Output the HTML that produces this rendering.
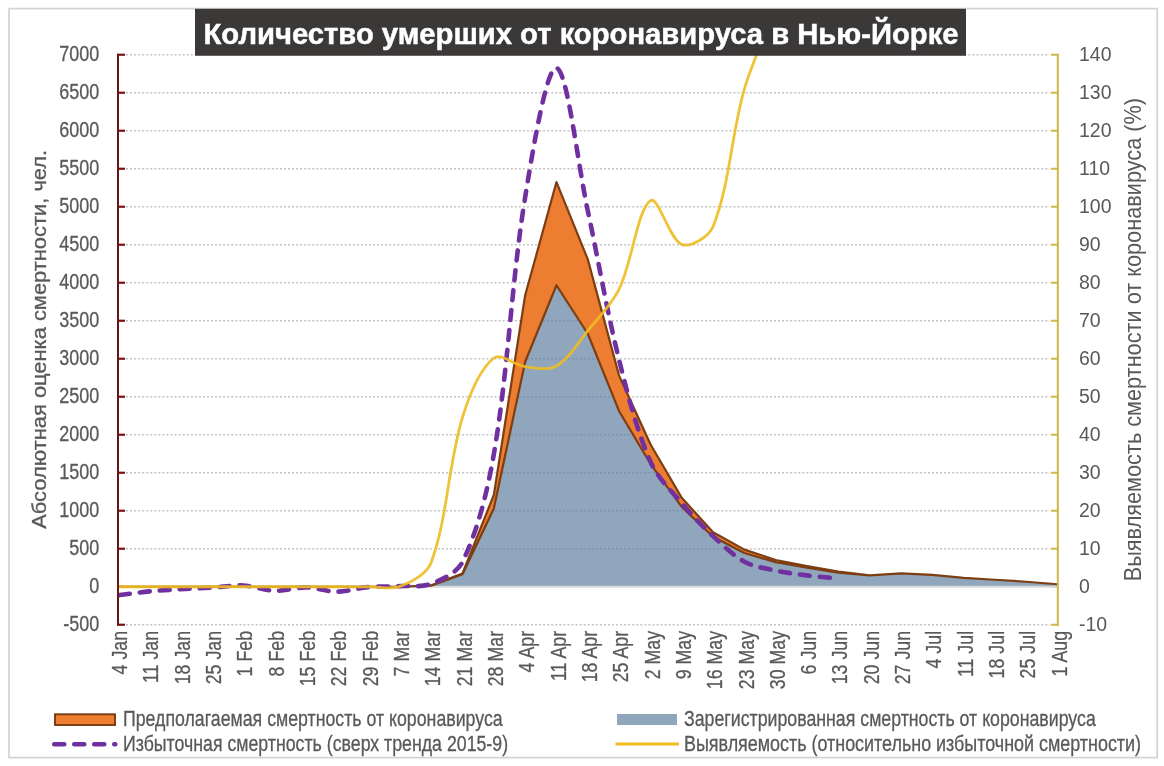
<!DOCTYPE html>
<html><head><meta charset="utf-8"><style>
html,body{margin:0;padding:0;background:#fff;width:1164px;height:766px;overflow:hidden}
svg{display:block;will-change:transform}
text{font-family:"Liberation Sans", sans-serif}
</style></head><body>
<svg width="1164" height="766" viewBox="0 0 1164 766">
<rect x="9" y="8.6" width="1148.2" height="749" fill="#fff" stroke="#D3D3D3" stroke-width="1.7"/>
<clipPath id="plot"><rect x="118.6" y="0" width="938.6" height="766"/></clipPath>
<clipPath id="cp"><rect x="118.6" y="9" width="938.6" height="757"/></clipPath>
<line x1="117" y1="624.75" x2="125" y2="624.75" stroke="#7A1414" stroke-width="2.2"/>
<line x1="117" y1="586.75" x2="125" y2="586.75" stroke="#7A1414" stroke-width="2.2"/>
<line x1="117" y1="548.75" x2="125" y2="548.75" stroke="#7A1414" stroke-width="2.2"/>
<line x1="117" y1="510.75" x2="125" y2="510.75" stroke="#7A1414" stroke-width="2.2"/>
<line x1="117" y1="472.75" x2="125" y2="472.75" stroke="#7A1414" stroke-width="2.2"/>
<line x1="117" y1="434.75" x2="125" y2="434.75" stroke="#7A1414" stroke-width="2.2"/>
<line x1="117" y1="396.75" x2="125" y2="396.75" stroke="#7A1414" stroke-width="2.2"/>
<line x1="117" y1="358.75" x2="125" y2="358.75" stroke="#7A1414" stroke-width="2.2"/>
<line x1="117" y1="320.75" x2="125" y2="320.75" stroke="#7A1414" stroke-width="2.2"/>
<line x1="117" y1="282.75" x2="125" y2="282.75" stroke="#7A1414" stroke-width="2.2"/>
<line x1="117" y1="244.75" x2="125" y2="244.75" stroke="#7A1414" stroke-width="2.2"/>
<line x1="117" y1="206.75" x2="125" y2="206.75" stroke="#7A1414" stroke-width="2.2"/>
<line x1="117" y1="168.75" x2="125" y2="168.75" stroke="#7A1414" stroke-width="2.2"/>
<line x1="117" y1="130.75" x2="125" y2="130.75" stroke="#7A1414" stroke-width="2.2"/>
<line x1="117" y1="92.75" x2="125" y2="92.75" stroke="#7A1414" stroke-width="2.2"/>
<line x1="117" y1="54.75" x2="125" y2="54.75" stroke="#7A1414" stroke-width="2.2"/>
<line x1="1051" y1="624.75" x2="1058.6" y2="624.75" stroke="#CDB848" stroke-width="2"/>
<line x1="1051" y1="586.75" x2="1058.6" y2="586.75" stroke="#CDB848" stroke-width="2"/>
<line x1="1051" y1="548.75" x2="1058.6" y2="548.75" stroke="#CDB848" stroke-width="2"/>
<line x1="1051" y1="510.75" x2="1058.6" y2="510.75" stroke="#CDB848" stroke-width="2"/>
<line x1="1051" y1="472.75" x2="1058.6" y2="472.75" stroke="#CDB848" stroke-width="2"/>
<line x1="1051" y1="434.75" x2="1058.6" y2="434.75" stroke="#CDB848" stroke-width="2"/>
<line x1="1051" y1="396.75" x2="1058.6" y2="396.75" stroke="#CDB848" stroke-width="2"/>
<line x1="1051" y1="358.75" x2="1058.6" y2="358.75" stroke="#CDB848" stroke-width="2"/>
<line x1="1051" y1="320.75" x2="1058.6" y2="320.75" stroke="#CDB848" stroke-width="2"/>
<line x1="1051" y1="282.75" x2="1058.6" y2="282.75" stroke="#CDB848" stroke-width="2"/>
<line x1="1051" y1="244.75" x2="1058.6" y2="244.75" stroke="#CDB848" stroke-width="2"/>
<line x1="1051" y1="206.75" x2="1058.6" y2="206.75" stroke="#CDB848" stroke-width="2"/>
<line x1="1051" y1="168.75" x2="1058.6" y2="168.75" stroke="#CDB848" stroke-width="2"/>
<line x1="1051" y1="130.75" x2="1058.6" y2="130.75" stroke="#CDB848" stroke-width="2"/>
<line x1="1051" y1="92.75" x2="1058.6" y2="92.75" stroke="#CDB848" stroke-width="2"/>
<line x1="1051" y1="54.75" x2="1058.6" y2="54.75" stroke="#CDB848" stroke-width="2"/>
<g stroke="#C4C4C4" stroke-width="1.7" stroke-dasharray="2 2.05"><line x1="126" y1="624.75" x2="1050" y2="624.75"/><line x1="126" y1="548.75" x2="1050" y2="548.75"/><line x1="126" y1="510.75" x2="1050" y2="510.75"/><line x1="126" y1="472.75" x2="1050" y2="472.75"/><line x1="126" y1="434.75" x2="1050" y2="434.75"/><line x1="126" y1="396.75" x2="1050" y2="396.75"/><line x1="126" y1="358.75" x2="1050" y2="358.75"/><line x1="126" y1="320.75" x2="1050" y2="320.75"/><line x1="126" y1="282.75" x2="1050" y2="282.75"/><line x1="126" y1="244.75" x2="1050" y2="244.75"/><line x1="126" y1="206.75" x2="1050" y2="206.75"/><line x1="126" y1="168.75" x2="1050" y2="168.75"/><line x1="126" y1="130.75" x2="1050" y2="130.75"/><line x1="126" y1="92.75" x2="1050" y2="92.75"/><line x1="126" y1="54.75" x2="1050" y2="54.75"/></g>
<path d="M118.00,586.75 L149.32,586.75 L180.64,586.75 L211.96,586.75 L243.28,586.75 L274.60,586.75 L305.92,586.75 L337.24,586.75 L368.56,586.75 L399.88,586.75 L431.20,585.69 L462.52,574.21 L493.84,508.47 L525.16,361.79 L556.48,285.26 L587.80,333.75 L619.12,411.19 L650.44,463.78 L681.76,506.95 L713.08,536.74 L744.40,552.93 L775.72,562.28 L807.04,567.75 L838.36,572.61 L869.68,575.35 L901.00,573.37 L932.32,574.97 L963.64,577.86 L994.96,579.76 L1026.28,581.73 L1057.60,584.24 L1057.60,586.75 L118.00,586.75 Z" fill="#90A6BD"/>
<clipPath id="bclip"><path d="M118.00,586.75 L149.32,586.75 L180.64,586.75 L211.96,586.75 L243.28,586.75 L274.60,586.75 L305.92,586.75 L337.24,586.75 L368.56,586.75 L399.88,586.75 L431.20,585.69 L462.52,574.21 L493.84,508.47 L525.16,361.79 L556.48,285.26 L587.80,333.75 L619.12,411.19 L650.44,463.78 L681.76,506.95 L713.08,536.74 L744.40,552.93 L775.72,562.28 L807.04,567.75 L838.36,572.61 L869.68,575.35 L901.00,573.37 L932.32,574.97 L963.64,577.86 L994.96,579.76 L1026.28,581.73 L1057.60,584.24 L1057.60,586.75 L118.00,586.75 Z"/></clipPath>
<g clip-path="url(#bclip)" stroke="#7C92AA" stroke-width="1.7" stroke-dasharray="2 2.05"><line x1="126" y1="624.75" x2="1050" y2="624.75"/><line x1="126" y1="548.75" x2="1050" y2="548.75"/><line x1="126" y1="510.75" x2="1050" y2="510.75"/><line x1="126" y1="472.75" x2="1050" y2="472.75"/><line x1="126" y1="434.75" x2="1050" y2="434.75"/><line x1="126" y1="396.75" x2="1050" y2="396.75"/><line x1="126" y1="358.75" x2="1050" y2="358.75"/><line x1="126" y1="320.75" x2="1050" y2="320.75"/><line x1="126" y1="282.75" x2="1050" y2="282.75"/><line x1="126" y1="244.75" x2="1050" y2="244.75"/><line x1="126" y1="206.75" x2="1050" y2="206.75"/><line x1="126" y1="168.75" x2="1050" y2="168.75"/><line x1="126" y1="130.75" x2="1050" y2="130.75"/><line x1="126" y1="92.75" x2="1050" y2="92.75"/><line x1="126" y1="54.75" x2="1050" y2="54.75"/></g>
<line x1="118" y1="586.75" x2="1057.6" y2="586.75" stroke="#D9D9D9" stroke-width="2"/>
<path d="M118.00,586.75 L149.32,586.75 L180.64,586.75 L211.96,586.75 L243.28,586.75 L274.60,586.75 L305.92,586.75 L337.24,586.75 L368.56,586.75 L399.88,586.75 L431.20,585.23 L462.52,573.45 L493.84,494.94 L525.16,295.29 L556.48,182.05 L587.80,259.34 L619.12,375.62 L650.44,444.25 L681.76,497.83 L713.08,532.33 L744.40,549.66 L775.72,560.00 L807.04,566.15 L838.36,571.63 L869.68,575.35 L901.00,573.37 L932.32,574.97 L963.64,577.86 L994.96,579.76 L1026.28,581.73 L1057.60,584.24 L1057.60,584.24 L1026.28,581.73 L994.96,579.76 L963.64,577.86 L932.32,574.97 L901.00,573.37 L869.68,575.35 L838.36,572.61 L807.04,567.75 L775.72,562.28 L744.40,552.93 L713.08,536.74 L681.76,506.95 L650.44,463.78 L619.12,411.19 L587.80,333.75 L556.48,285.26 L525.16,361.79 L493.84,508.47 L462.52,574.21 L431.20,585.69 L399.88,586.75 L368.56,586.75 L337.24,586.75 L305.92,586.75 L274.60,586.75 L243.28,586.75 L211.96,586.75 L180.64,586.75 L149.32,586.75 L118.00,586.75 Z" fill="#ED7D31" stroke="#7C3E12" stroke-width="2.2" stroke-linejoin="round"/>
<path d="M118.00,595.34 C123.22,594.68 138.85,592.41 149.32,591.39 C159.73,590.36 170.19,589.80 180.64,589.18 C191.07,588.56 201.53,588.28 211.96,587.66 C222.41,587.04 232.90,584.94 243.28,585.46 C253.78,585.98 264.12,590.45 274.60,590.78 C285.00,591.11 295.50,587.28 305.92,587.43 C316.38,587.59 326.81,591.75 337.24,591.69 C347.69,591.63 358.07,587.98 368.56,587.05 C378.95,586.13 389.45,586.69 399.88,586.14 C410.33,585.60 421.79,587.44 431.20,583.79 C442.67,579.33 457.21,572.81 462.52,561.82 C478.09,529.60 487.53,490.87 493.84,454.13 C508.41,369.32 511.37,282.22 525.16,197.17 C532.25,153.47 546.54,65.73 556.48,67.90 C567.42,70.29 577.57,163.16 587.80,210.85 C598.45,260.54 606.82,310.79 619.12,360.04 C627.70,394.39 636.42,429.61 650.44,461.65 C657.30,477.34 670.61,489.97 681.76,503.23 C691.49,514.80 702.03,525.82 713.08,536.13 C722.91,545.31 732.84,555.31 744.40,561.67 C753.72,566.79 765.14,568.25 775.72,570.56 C786.02,572.81 796.57,574.02 807.04,575.35 C817.45,576.68 833.14,578.01 838.36,578.54" fill="none" stroke="#7030A0" stroke-width="4.6" stroke-dasharray="10 10" stroke-dashoffset="-2" stroke-linecap="round" clip-path="url(#plot)"/>
<path d="M118.00,586.75 C123.22,586.75 138.88,586.75 149.32,586.75 C159.76,586.75 170.20,586.75 180.64,586.75 C191.08,586.75 201.52,586.75 211.96,586.75 C222.40,586.75 232.84,586.75 243.28,586.75 C253.72,586.75 264.16,586.75 274.60,586.75 C285.04,586.75 295.48,586.75 305.92,586.75 C316.36,586.75 326.80,586.75 337.24,586.75 C347.68,586.75 358.12,586.81 368.56,586.75 C379.00,586.69 390.64,589.96 399.88,586.37 C411.52,581.85 426.82,574.25 431.20,562.43 C447.70,517.89 448.13,464.22 462.52,417.27 C469.01,396.07 479.78,369.33 493.84,357.99 C500.66,352.49 514.53,365.38 525.16,366.73 C535.41,368.04 548.15,370.77 556.48,365.97 C569.03,358.74 577.86,342.82 587.80,330.63 C598.74,317.23 611.69,304.63 619.12,289.21 C632.57,261.31 637.16,210.18 650.44,200.67 C658.04,195.23 669.26,239.21 681.76,244.37 C690.14,247.83 708.83,237.05 713.08,226.51 C729.71,185.25 731.41,134.02 744.40,88.95 C752.29,61.56 770.50,22.45 775.72,9.15" fill="none" stroke="#EDBC22" stroke-opacity="0.9" stroke-width="2.8" clip-path="url(#cp)"/>
<line x1="118" y1="54" x2="118" y2="625.5" stroke="#6A1515" stroke-width="2"/>
<line x1="1057.8" y1="54" x2="1057.8" y2="625.8" stroke="#CDB848" stroke-width="2"/>
<text x="0" y="0" text-anchor="end" font-size="22.5" fill="#595959" stroke="#595959" stroke-width="0.3" transform="translate(99.3 631.25) scale(0.80 1)">-500</text>
<text x="0" y="0" text-anchor="end" font-size="22.5" fill="#595959" stroke="#595959" stroke-width="0.3" transform="translate(99.3 593.25) scale(0.80 1)">0</text>
<text x="0" y="0" text-anchor="end" font-size="22.5" fill="#595959" stroke="#595959" stroke-width="0.3" transform="translate(99.3 555.25) scale(0.80 1)">500</text>
<text x="0" y="0" text-anchor="end" font-size="22.5" fill="#595959" stroke="#595959" stroke-width="0.3" transform="translate(99.3 517.25) scale(0.80 1)">1000</text>
<text x="0" y="0" text-anchor="end" font-size="22.5" fill="#595959" stroke="#595959" stroke-width="0.3" transform="translate(99.3 479.25) scale(0.80 1)">1500</text>
<text x="0" y="0" text-anchor="end" font-size="22.5" fill="#595959" stroke="#595959" stroke-width="0.3" transform="translate(99.3 441.25) scale(0.80 1)">2000</text>
<text x="0" y="0" text-anchor="end" font-size="22.5" fill="#595959" stroke="#595959" stroke-width="0.3" transform="translate(99.3 403.25) scale(0.80 1)">2500</text>
<text x="0" y="0" text-anchor="end" font-size="22.5" fill="#595959" stroke="#595959" stroke-width="0.3" transform="translate(99.3 365.25) scale(0.80 1)">3000</text>
<text x="0" y="0" text-anchor="end" font-size="22.5" fill="#595959" stroke="#595959" stroke-width="0.3" transform="translate(99.3 327.25) scale(0.80 1)">3500</text>
<text x="0" y="0" text-anchor="end" font-size="22.5" fill="#595959" stroke="#595959" stroke-width="0.3" transform="translate(99.3 289.25) scale(0.80 1)">4000</text>
<text x="0" y="0" text-anchor="end" font-size="22.5" fill="#595959" stroke="#595959" stroke-width="0.3" transform="translate(99.3 251.25) scale(0.80 1)">4500</text>
<text x="0" y="0" text-anchor="end" font-size="22.5" fill="#595959" stroke="#595959" stroke-width="0.3" transform="translate(99.3 213.25) scale(0.80 1)">5000</text>
<text x="0" y="0" text-anchor="end" font-size="22.5" fill="#595959" stroke="#595959" stroke-width="0.3" transform="translate(99.3 175.25) scale(0.80 1)">5500</text>
<text x="0" y="0" text-anchor="end" font-size="22.5" fill="#595959" stroke="#595959" stroke-width="0.3" transform="translate(99.3 137.25) scale(0.80 1)">6000</text>
<text x="0" y="0" text-anchor="end" font-size="22.5" fill="#595959" stroke="#595959" stroke-width="0.3" transform="translate(99.3 99.25) scale(0.80 1)">6500</text>
<text x="0" y="0" text-anchor="end" font-size="22.5" fill="#595959" stroke="#595959" stroke-width="0.3" transform="translate(99.3 61.25) scale(0.80 1)">7000</text>
<text x="0" y="0" font-size="20.5" fill="#595959" transform="translate(1079 631.15) scale(0.95 1)">-10</text>
<text x="0" y="0" font-size="20.5" fill="#595959" transform="translate(1079 593.15) scale(0.95 1)">0</text>
<text x="0" y="0" font-size="20.5" fill="#595959" transform="translate(1079 555.15) scale(0.95 1)">10</text>
<text x="0" y="0" font-size="20.5" fill="#595959" transform="translate(1079 517.15) scale(0.95 1)">20</text>
<text x="0" y="0" font-size="20.5" fill="#595959" transform="translate(1079 479.15) scale(0.95 1)">30</text>
<text x="0" y="0" font-size="20.5" fill="#595959" transform="translate(1079 441.15) scale(0.95 1)">40</text>
<text x="0" y="0" font-size="20.5" fill="#595959" transform="translate(1079 403.15) scale(0.95 1)">50</text>
<text x="0" y="0" font-size="20.5" fill="#595959" transform="translate(1079 365.15) scale(0.95 1)">60</text>
<text x="0" y="0" font-size="20.5" fill="#595959" transform="translate(1079 327.15) scale(0.95 1)">70</text>
<text x="0" y="0" font-size="20.5" fill="#595959" transform="translate(1079 289.15) scale(0.95 1)">80</text>
<text x="0" y="0" font-size="20.5" fill="#595959" transform="translate(1079 251.15) scale(0.95 1)">90</text>
<text x="0" y="0" font-size="20.5" fill="#595959" transform="translate(1079 213.15) scale(0.95 1)">100</text>
<text x="0" y="0" font-size="20.5" fill="#595959" transform="translate(1079 175.15) scale(0.95 1)">110</text>
<text x="0" y="0" font-size="20.5" fill="#595959" transform="translate(1079 137.15) scale(0.95 1)">120</text>
<text x="0" y="0" font-size="20.5" fill="#595959" transform="translate(1079 99.15) scale(0.95 1)">130</text>
<text x="0" y="0" font-size="20.5" fill="#595959" transform="translate(1079 61.15) scale(0.95 1)">140</text>
<text x="0" y="0" text-anchor="end" font-size="22.8" fill="#595959" stroke="#595959" stroke-width="0.3" transform="translate(127.10 630.9) rotate(-90) scale(0.781 1)">4 Jan</text>
<text x="0" y="0" text-anchor="end" font-size="22.8" fill="#595959" stroke="#595959" stroke-width="0.3" transform="translate(158.42 630.9) rotate(-90) scale(0.781 1)">11 Jan</text>
<text x="0" y="0" text-anchor="end" font-size="22.8" fill="#595959" stroke="#595959" stroke-width="0.3" transform="translate(189.74 630.9) rotate(-90) scale(0.781 1)">18 Jan</text>
<text x="0" y="0" text-anchor="end" font-size="22.8" fill="#595959" stroke="#595959" stroke-width="0.3" transform="translate(221.06 630.9) rotate(-90) scale(0.781 1)">25 Jan</text>
<text x="0" y="0" text-anchor="end" font-size="22.8" fill="#595959" stroke="#595959" stroke-width="0.3" transform="translate(252.38 630.9) rotate(-90) scale(0.781 1)">1 Feb</text>
<text x="0" y="0" text-anchor="end" font-size="22.8" fill="#595959" stroke="#595959" stroke-width="0.3" transform="translate(283.70 630.9) rotate(-90) scale(0.781 1)">8 Feb</text>
<text x="0" y="0" text-anchor="end" font-size="22.8" fill="#595959" stroke="#595959" stroke-width="0.3" transform="translate(315.02 630.9) rotate(-90) scale(0.781 1)">15 Feb</text>
<text x="0" y="0" text-anchor="end" font-size="22.8" fill="#595959" stroke="#595959" stroke-width="0.3" transform="translate(346.34 630.9) rotate(-90) scale(0.781 1)">22 Feb</text>
<text x="0" y="0" text-anchor="end" font-size="22.8" fill="#595959" stroke="#595959" stroke-width="0.3" transform="translate(377.66 630.9) rotate(-90) scale(0.781 1)">29 Feb</text>
<text x="0" y="0" text-anchor="end" font-size="22.8" fill="#595959" stroke="#595959" stroke-width="0.3" transform="translate(408.98 630.9) rotate(-90) scale(0.781 1)">7 Mar</text>
<text x="0" y="0" text-anchor="end" font-size="22.8" fill="#595959" stroke="#595959" stroke-width="0.3" transform="translate(440.30 630.9) rotate(-90) scale(0.781 1)">14 Mar</text>
<text x="0" y="0" text-anchor="end" font-size="22.8" fill="#595959" stroke="#595959" stroke-width="0.3" transform="translate(471.62 630.9) rotate(-90) scale(0.781 1)">21 Mar</text>
<text x="0" y="0" text-anchor="end" font-size="22.8" fill="#595959" stroke="#595959" stroke-width="0.3" transform="translate(502.94 630.9) rotate(-90) scale(0.781 1)">28 Mar</text>
<text x="0" y="0" text-anchor="end" font-size="22.8" fill="#595959" stroke="#595959" stroke-width="0.3" transform="translate(534.26 630.9) rotate(-90) scale(0.781 1)">4 Apr</text>
<text x="0" y="0" text-anchor="end" font-size="22.8" fill="#595959" stroke="#595959" stroke-width="0.3" transform="translate(565.58 630.9) rotate(-90) scale(0.781 1)">11 Apr</text>
<text x="0" y="0" text-anchor="end" font-size="22.8" fill="#595959" stroke="#595959" stroke-width="0.3" transform="translate(596.90 630.9) rotate(-90) scale(0.781 1)">18 Apr</text>
<text x="0" y="0" text-anchor="end" font-size="22.8" fill="#595959" stroke="#595959" stroke-width="0.3" transform="translate(628.22 630.9) rotate(-90) scale(0.781 1)">25 Apr</text>
<text x="0" y="0" text-anchor="end" font-size="22.8" fill="#595959" stroke="#595959" stroke-width="0.3" transform="translate(659.54 630.9) rotate(-90) scale(0.781 1)">2 May</text>
<text x="0" y="0" text-anchor="end" font-size="22.8" fill="#595959" stroke="#595959" stroke-width="0.3" transform="translate(690.86 630.9) rotate(-90) scale(0.781 1)">9 May</text>
<text x="0" y="0" text-anchor="end" font-size="22.8" fill="#595959" stroke="#595959" stroke-width="0.3" transform="translate(722.18 630.9) rotate(-90) scale(0.781 1)">16 May</text>
<text x="0" y="0" text-anchor="end" font-size="22.8" fill="#595959" stroke="#595959" stroke-width="0.3" transform="translate(753.50 630.9) rotate(-90) scale(0.781 1)">23 May</text>
<text x="0" y="0" text-anchor="end" font-size="22.8" fill="#595959" stroke="#595959" stroke-width="0.3" transform="translate(784.82 630.9) rotate(-90) scale(0.781 1)">30 May</text>
<text x="0" y="0" text-anchor="end" font-size="22.8" fill="#595959" stroke="#595959" stroke-width="0.3" transform="translate(816.14 630.9) rotate(-90) scale(0.781 1)">6 Jun</text>
<text x="0" y="0" text-anchor="end" font-size="22.8" fill="#595959" stroke="#595959" stroke-width="0.3" transform="translate(847.46 630.9) rotate(-90) scale(0.781 1)">13 Jun</text>
<text x="0" y="0" text-anchor="end" font-size="22.8" fill="#595959" stroke="#595959" stroke-width="0.3" transform="translate(878.78 630.9) rotate(-90) scale(0.781 1)">20 Jun</text>
<text x="0" y="0" text-anchor="end" font-size="22.8" fill="#595959" stroke="#595959" stroke-width="0.3" transform="translate(910.10 630.9) rotate(-90) scale(0.781 1)">27 Jun</text>
<text x="0" y="0" text-anchor="end" font-size="22.8" fill="#595959" stroke="#595959" stroke-width="0.3" transform="translate(941.42 630.9) rotate(-90) scale(0.781 1)">4 Jul</text>
<text x="0" y="0" text-anchor="end" font-size="22.8" fill="#595959" stroke="#595959" stroke-width="0.3" transform="translate(972.74 630.9) rotate(-90) scale(0.781 1)">11 Jul</text>
<text x="0" y="0" text-anchor="end" font-size="22.8" fill="#595959" stroke="#595959" stroke-width="0.3" transform="translate(1004.06 630.9) rotate(-90) scale(0.781 1)">18 Jul</text>
<text x="0" y="0" text-anchor="end" font-size="22.8" fill="#595959" stroke="#595959" stroke-width="0.3" transform="translate(1035.38 630.9) rotate(-90) scale(0.781 1)">25 Jul</text>
<text x="0" y="0" text-anchor="end" font-size="22.8" fill="#595959" stroke="#595959" stroke-width="0.3" transform="translate(1066.70 630.9) rotate(-90) scale(0.781 1)">1 Aug</text>
<text x="0" y="0" text-anchor="middle" font-size="21" fill="#595959" stroke="#595959" stroke-width="0.3" transform="translate(46 339.35) rotate(-90) scale(1.043 1)">Абсолютная оценка смертности, чел.</text>
<text x="0" y="0" text-anchor="middle" font-size="23" fill="#595959" transform="translate(1141.2 339.6) rotate(-90) scale(0.944 1)">Выявляемость смертности от коронавируса (%)</text>
<rect x="195" y="8.8" width="771" height="46.95" fill="#3B3838"/>
<text x="203.5" y="44" font-size="29.3" font-weight="bold" fill="#fff" stroke="#fff" stroke-width="0.5" textLength="755" lengthAdjust="spacingAndGlyphs">Количество умерших от коронавируса в Нью-Йорке</text>
<rect x="55" y="714.3" width="60" height="10.7" fill="#ED7D31" stroke="#773A10" stroke-width="1.9"/>
<text x="123" y="726.2" font-size="22.5" stroke="#595959" stroke-width="0.3" fill="#595959" transform="translate(123 0) scale(0.789 1) translate(-123 0)">Предполагаемая смертность от коронавируса</text>
<line x1="54.25" y1="744.3" x2="115.3" y2="744.3" stroke="#7030A0" stroke-width="4.6" stroke-dasharray="10 10" stroke-linecap="round"/>
<text x="123" y="750.6" font-size="22.5" stroke="#595959" stroke-width="0.3" fill="#595959" transform="translate(123 0) scale(0.789 1) translate(-123 0)">Избыточная смертность (сверх тренда 2015-9)</text>
<rect x="617" y="714" width="60" height="11" fill="#90A6BD"/>
<text x="684" y="726.2" font-size="22.5" stroke="#595959" stroke-width="0.3" fill="#595959" transform="translate(684 0) scale(0.789 1) translate(-684 0)">Зарегистрированная смертность от коронавируса</text>
<line x1="615.5" y1="744" x2="679" y2="744" stroke="#F0BC1E" stroke-width="3"/>
<text x="684" y="750.6" font-size="22.5" stroke="#595959" stroke-width="0.3" fill="#595959" transform="translate(684 0) scale(0.797 1) translate(-684 0)">Выявляемость (относительно избыточной смертности)</text>
</svg>
</body></html>
